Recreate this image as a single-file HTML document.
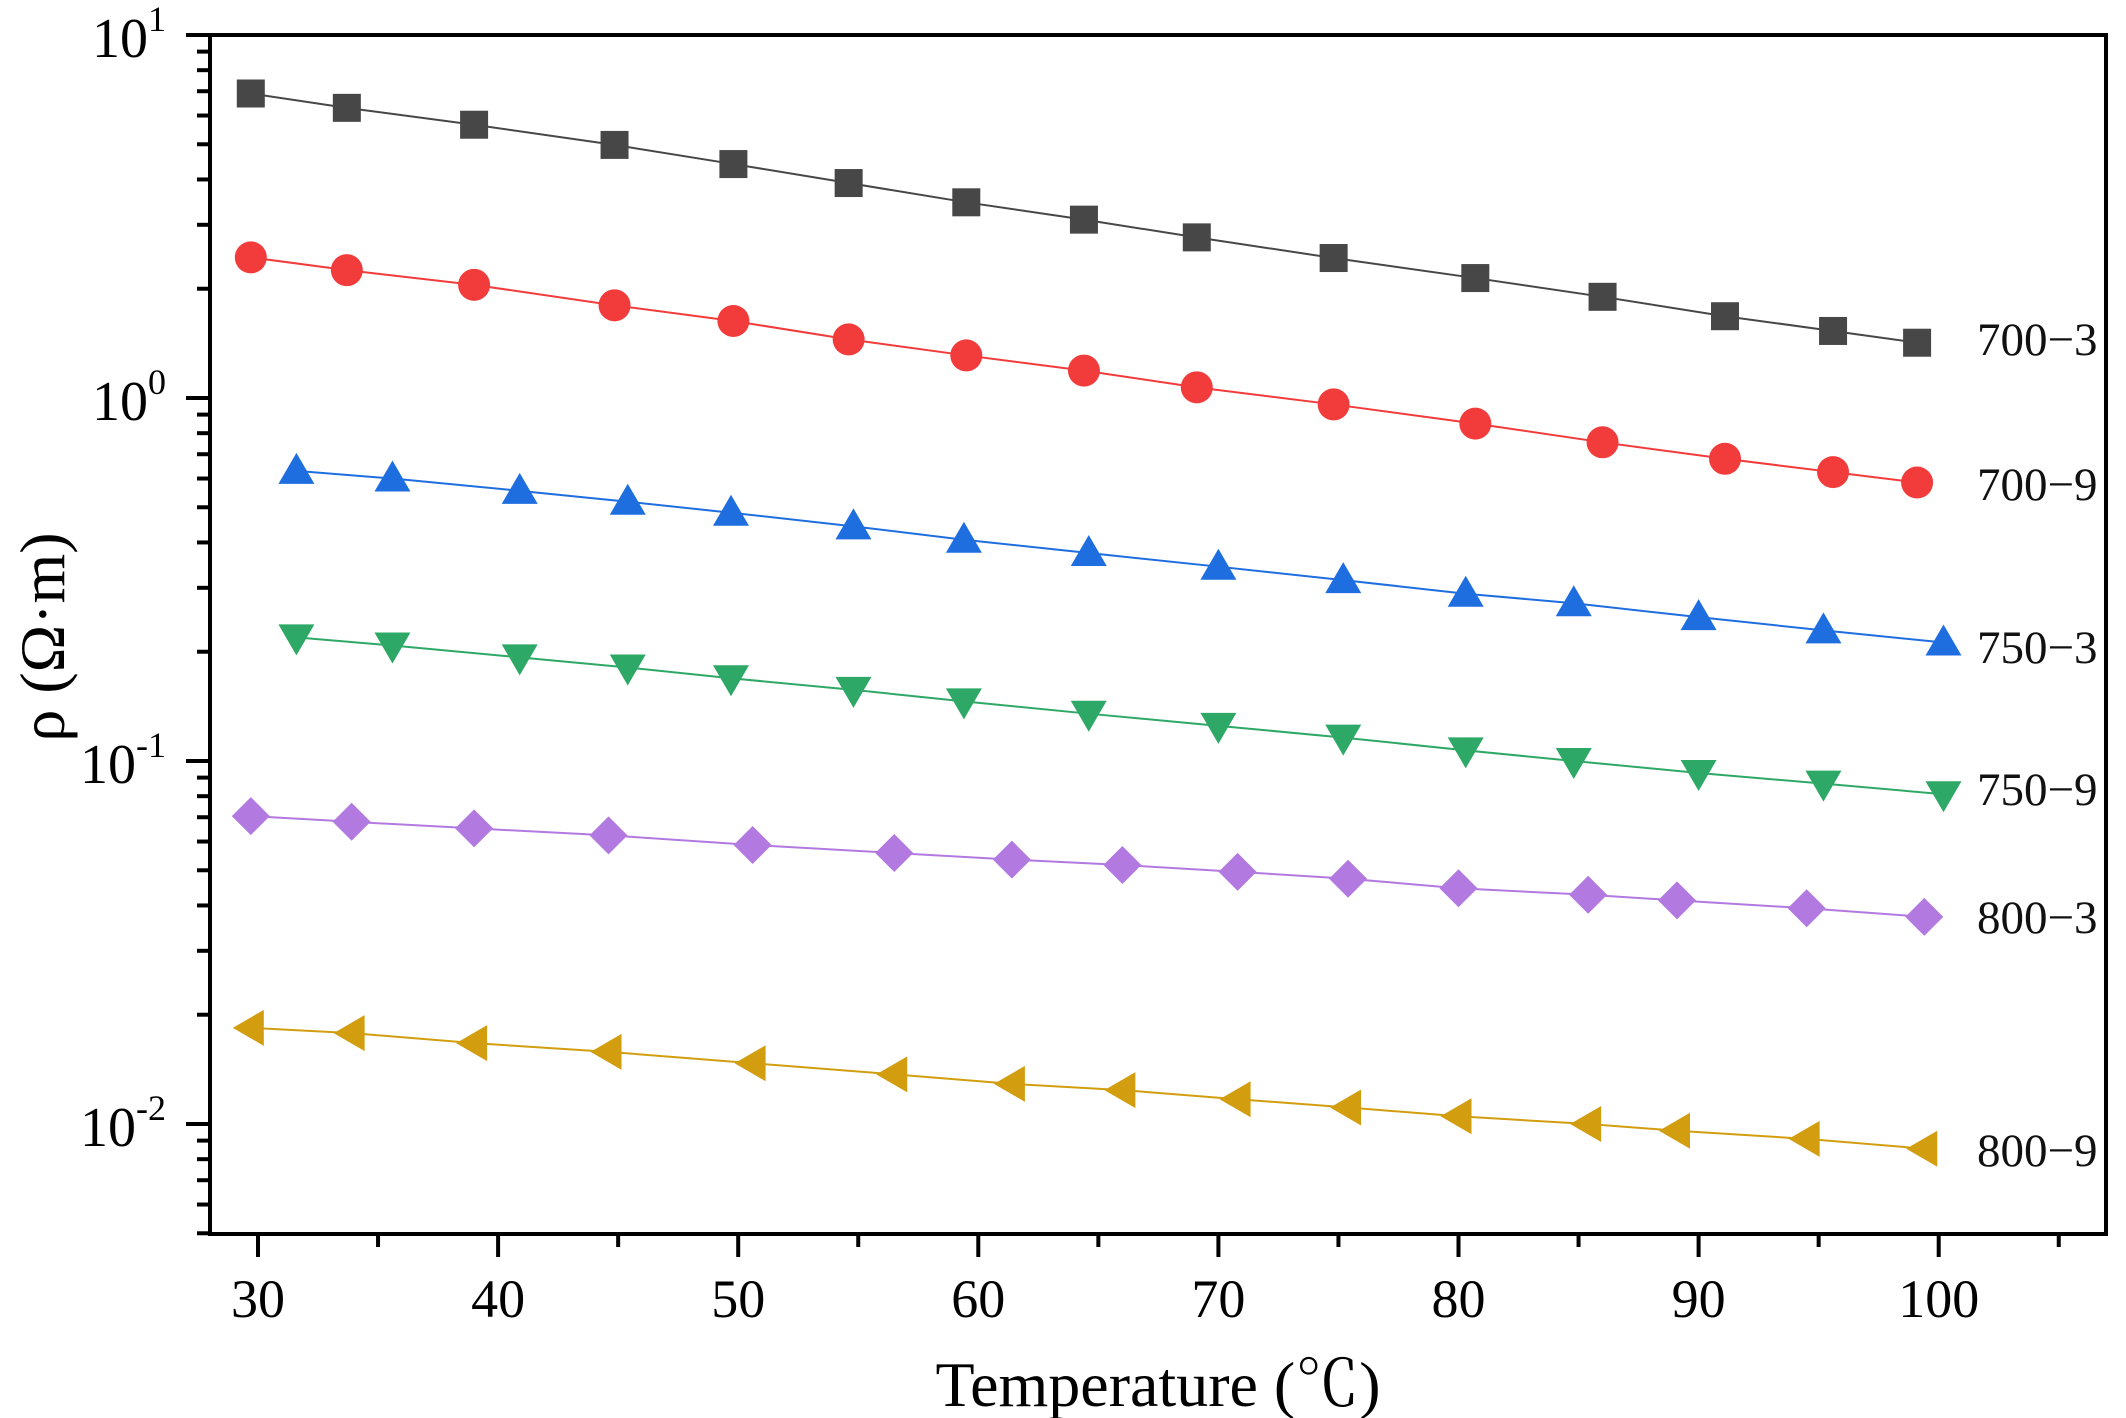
<!DOCTYPE html>
<html><head><meta charset="utf-8"><style>
html,body{margin:0;padding:0;background:#fff;}
svg{display:block;font-family:"Liberation Serif","Noto Serif CJK SC",serif;}
</style></head><body>
<svg id="chart" width="2126" height="1418" viewBox="0 0 2126 1418" xmlns="http://www.w3.org/2000/svg"></svg>
<script>
const seriesNames = ["700−3","700−9","750−3","750−9","800−3","800−9"];
const tA = [29.7,33.7,39.0,44.85,49.8,54.6,59.5,64.4,69.1,74.8,80.7,86.0,91.1,95.6,99.1];
const tB = [31.6,35.6,40.9,45.4,49.7,54.8,59.4,64.6,70.0,75.2,80.3,84.8,90.0,95.2,100.2];
const tC = [29.7,33.9,39.0,44.6,50.6,56.5,61.4,66.0,70.8,75.4,80.0,85.4,89.1,94.5,99.4];
const v7003 = [6.9,6.3,5.66,4.98,4.41,3.91,3.46,3.10,2.77,2.43,2.14,1.90,1.68,1.53,1.42];
const v7009 = [2.44,2.25,2.05,1.80,1.63,1.45,1.31,1.19,1.07,0.96,0.85,0.755,0.68,0.625,0.585];
const v7503 = [0.63,0.60,0.555,0.518,0.483,0.443,0.407,0.374,0.343,0.315,0.289,0.272,0.249,0.229,0.212];
const v7509 = [0.219,0.208,0.193,0.181,0.169,0.157,0.146,0.135,0.125,0.116,0.107,0.100,0.0927,0.0866,0.081];
const v8003 = [0.0705,0.068,0.0652,0.0624,0.0587,0.0558,0.0535,0.0517,0.0495,0.0474,0.0446,0.0428,0.0413,0.0393,0.0372];
const v8009 = [0.0184,0.0178,0.0167,0.0158,0.0147,0.0137,0.0129,0.0124,0.0117,0.0111,0.0105,0.0100,0.00958,0.0091,0.00855];
const xTicks = [30,40,50,60,70,80,90,100];
const yExps = [1,0,-1,-2];

const NS="http://www.w3.org/2000/svg";
const svg=document.getElementById('chart');
const PL=210,PR=2106,PT=35,PB=1234;
function xs(t){return 258+(t-30)*24.01;}
function ys(v){return 35+(1-Math.log10(v))*363;}
function mk(tag,attrs,parent){const e=document.createElementNS(NS,tag);for(const k in attrs)e.setAttribute(k,attrs[k]);(parent||svg).appendChild(e);return e;}

const series=[
 {x:tA,v:v7003,c:"#474747",m:"sq",ly:339},
 {x:tA,v:v7009,c:"#f23b3b",m:"ci",ly:484},
 {x:tB,v:v7503,c:"#1f6ee0",m:"up",ly:647},
 {x:tB,v:v7509,c:"#2ea866",m:"dn",ly:789},
 {x:tC,v:v8003,c:"#b27ae0",m:"di",ly:917},
 {x:tC,v:v8009,c:"#d29e0f",m:"lt",ly:1150}
];
series.forEach((s,i)=>{
  const g=mk('g',{});
  
  
  const pts=s.x.map((t,j)=>xs(t)+','+ys(s.v[j])).join(' ');
  const pl=mk('polyline',{points:pts,fill:'none',stroke:s.c,'stroke-width':2},g);
  
  
  s.x.forEach((t,j)=>{
    const cx=xs(t),cy=ys(s.v[j]);let e;
    if(s.m==='sq')e=mk('rect',{x:cx-14,y:cy-14,width:28,height:28,fill:s.c},g);
    else if(s.m==='ci')e=mk('circle',{cx:cx,cy:cy,r:16,fill:s.c},g);
    else if(s.m==='up')e=mk('polygon',{points:`${cx},${cy-18} ${cx-18},${cy+13} ${cx+18},${cy+13}`,fill:s.c},g);
    else if(s.m==='dn')e=mk('polygon',{points:`${cx},${cy+18} ${cx-18},${cy-13} ${cx+18},${cy-13}`,fill:s.c},g);
    else if(s.m==='di')e=mk('polygon',{points:`${cx},${cy-19} ${cx+19},${cy} ${cx},${cy+19} ${cx-19},${cy}`,fill:s.c},g);
    else e=mk('polygon',{points:`${cx-18},${cy} ${cx+13},${cy-18} ${cx+13},${cy+18}`,fill:s.c},g);
    
    
  });
  const lb=mk('text',{x:1977,y:s.ly+16,'font-size':47,fill:'#111'});
  lb.textContent=seriesNames[i];
  
  
});

const fr=mk('rect',{x:PL,y:PT,width:PR-PL,height:PB-PT,fill:'none',stroke:'#000','stroke-width':4});


for(let t=30;t<=105;t+=5){
  const maj=t%10===0;
  const e=mk('line',{x1:xs(t),x2:xs(t),y1:PB,y2:PB+(maj?23:13),stroke:'#000','stroke-width':4});
  
  
}
xTicks.forEach(t=>{
  const e=mk('text',{x:xs(t),y:1317,'font-size':54,'text-anchor':'middle'});
  e.textContent=t;
  
  
});
for(let ex=-3;ex<=0;ex++){
  for(let m=1;m<=9;m++){
    const v=m*Math.pow(10,ex);const y=ys(v);
    if(y>PB+1||y<PT-1)continue;
    const e=mk('line',{x1:PL,x2:PL-(m===1?24:13),y1:y,y2:y,stroke:'#000','stroke-width':4});
    
    
  }
}
const topTick=mk('line',{x1:PL,x2:PL-24,y1:PT,y2:PT,stroke:'#000','stroke-width':4});


yExps.forEach(ex=>{
  const y=ys(Math.pow(10,ex));
  const e=mk('text',{x:166,y:y+22,'font-size':56,'text-anchor':'end'});
  const a=mk('tspan',{},e);a.textContent='10';
  const b=mk('tspan',{dy:-26,'font-size':36},e);b.textContent=String(ex);
  
  
});
const xt=mk('text',{x:1158,y:1406,'font-size':64,'text-anchor':'middle'});
xt.textContent='Temperature (℃)';


const yt=mk('text',{x:0,y:0,'font-size':64,'text-anchor':'middle',transform:'translate(64,637) rotate(-90)'});
yt.textContent='ρ (Ω·m)';


</script>
</body></html>
